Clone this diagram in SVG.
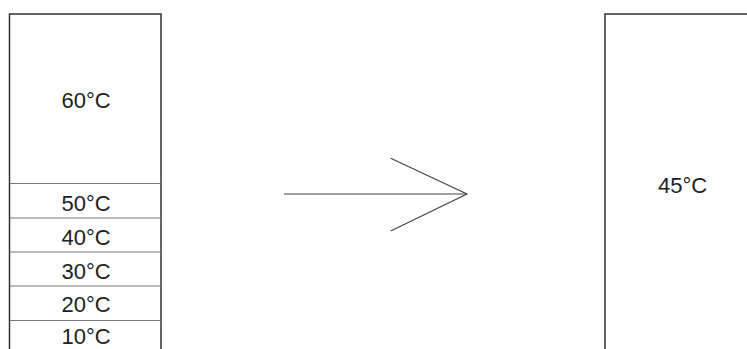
<svg xmlns="http://www.w3.org/2000/svg" width="747" height="349" viewBox="0 0 747 349">
<style>
.box{fill:none;stroke:#333;stroke-width:1.5}
.div{stroke:#777;stroke-width:1.2}
.t{font-family:"Liberation Sans",Arial,sans-serif;font-size:22px;fill:#222;text-anchor:middle}
.arr{fill:none;stroke:#444;stroke-width:1.2}
</style>
<rect width="747" height="349" fill="#fff"/>
<g id="left-tank">
<path class="box" d="M9.5,360 V14 H161 V360"/>
<line class="div" x1="9.5" y1="183.5" x2="161" y2="183.5"/>
<line class="div" x1="9.5" y1="218" x2="161" y2="218"/>
<line class="div" x1="9.5" y1="252" x2="161" y2="252"/>
<line class="div" x1="9.5" y1="286" x2="161" y2="286"/>
<line class="div" x1="9.5" y1="320.5" x2="161" y2="320.5"/>
<text class="t" x="86" y="108">60°C</text>
<text class="t" x="86" y="211">50°C</text>
<text class="t" x="86" y="245">40°C</text>
<text class="t" x="86" y="279">30°C</text>
<text class="t" x="86" y="312">20°C</text>
<text class="t" x="86" y="344">10°C</text>
</g>
<g id="connectors">
<line class="arr" x1="284" y1="194" x2="467" y2="194"/>
<polyline class="arr" points="390.7,158.3 467,194 390.7,231"/>
</g>
<g id="right-tank">
<path class="box" d="M605,360 V14 H760"/>
<text class="t" x="682.5" y="193">45°C</text>
</g>
</svg>
